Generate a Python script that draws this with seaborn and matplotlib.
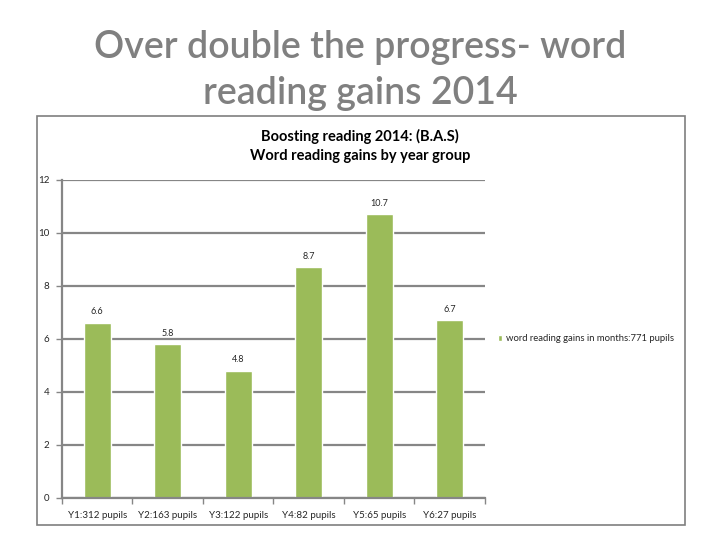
import matplotlib
matplotlib.use("Agg")
import matplotlib.pyplot as plt
import seaborn as sns
import pandas as pd
from matplotlib.patches import Rectangle

# data
year_groups = ["Y1:312 pupils", "Y2:163 pupils", "Y3:122 pupils",
               "Y4:82 pupils", "Y5:65 pupils", "Y6:27 pupils"]
gains = [6.6, 5.8, 4.8, 8.7, 10.7, 6.7]
series_name = "word reading gains in months:771 pupils"

sns.set_style("white")
plt.rcParams["font.family"] = ["Lato", "DejaVu Sans"]

df = pd.DataFrame({"group": year_groups, "gain": gains})

fig = plt.figure(figsize=(7.2, 5.4), dpi=100)

# outer chart box
fig.patches.append(Rectangle((0.0514, 0.0278), 0.9, 0.757, transform=fig.transFigure,
                             fill=False, edgecolor="#7f7f7f", linewidth=1.2))

fig.text(0.5, 0.870, "Over double the progress- word\nreading gains 2014",
         ha="center", va="center", fontsize=27, fontweight=600, color="#808080",
         linespacing=1.4)
fig.text(0.5, 0.730, "Boosting reading 2014: (B.A.S)\nWord reading gains by year group",
         ha="center", va="center", fontsize=10.5, fontweight="bold", color="black",
         linespacing=1.45)

ax = fig.add_axes([0.0861, 0.0778, 0.5875, 0.5889])
sns.barplot(data=df, x="group", y="gain", color="#9BBB59", width=0.38,
            saturation=1, ax=ax, label=series_name)

ax.set_ylim(0, 12)
ax.set_yticks(range(0, 13, 2))
ax.set_xlim(-0.5, 5.5)
ax.yaxis.grid(True, color="#868686", linewidth=1.6)
ax.set_axisbelow(True)
ax.set_xlabel("")
ax.set_ylabel("")

for s in ["top", "right"]:
    ax.spines[s].set_visible(False)
for s in ["left", "bottom"]:
    ax.spines[s].set_color("#868686")
    ax.spines[s].set_linewidth(1.6)

ax.tick_params(axis="y", left=True, length=4, width=1, color="#868686",
               labelsize=7, pad=5)
ax.tick_params(axis="x", bottom=False, labelsize=7, pad=6)
# tick marks between categories
ax.set_xticks([i - 0.5 for i in range(7)], minor=True)
ax.tick_params(axis="x", which="minor", bottom=True, length=4, width=1,
               color="#868686")

for i, v in enumerate(gains):
    ax.text(i, v + 0.25, f"{v}", ha="center", va="bottom", fontsize=6.5)

leg = ax.legend(loc="center left", bbox_to_anchor=(1.01, 0.5), frameon=False,
                fontsize=6.8, handlelength=0.5, handleheight=0.5, handletextpad=0.4)

fig.savefig("out.png", dpi=100, facecolor="white")
